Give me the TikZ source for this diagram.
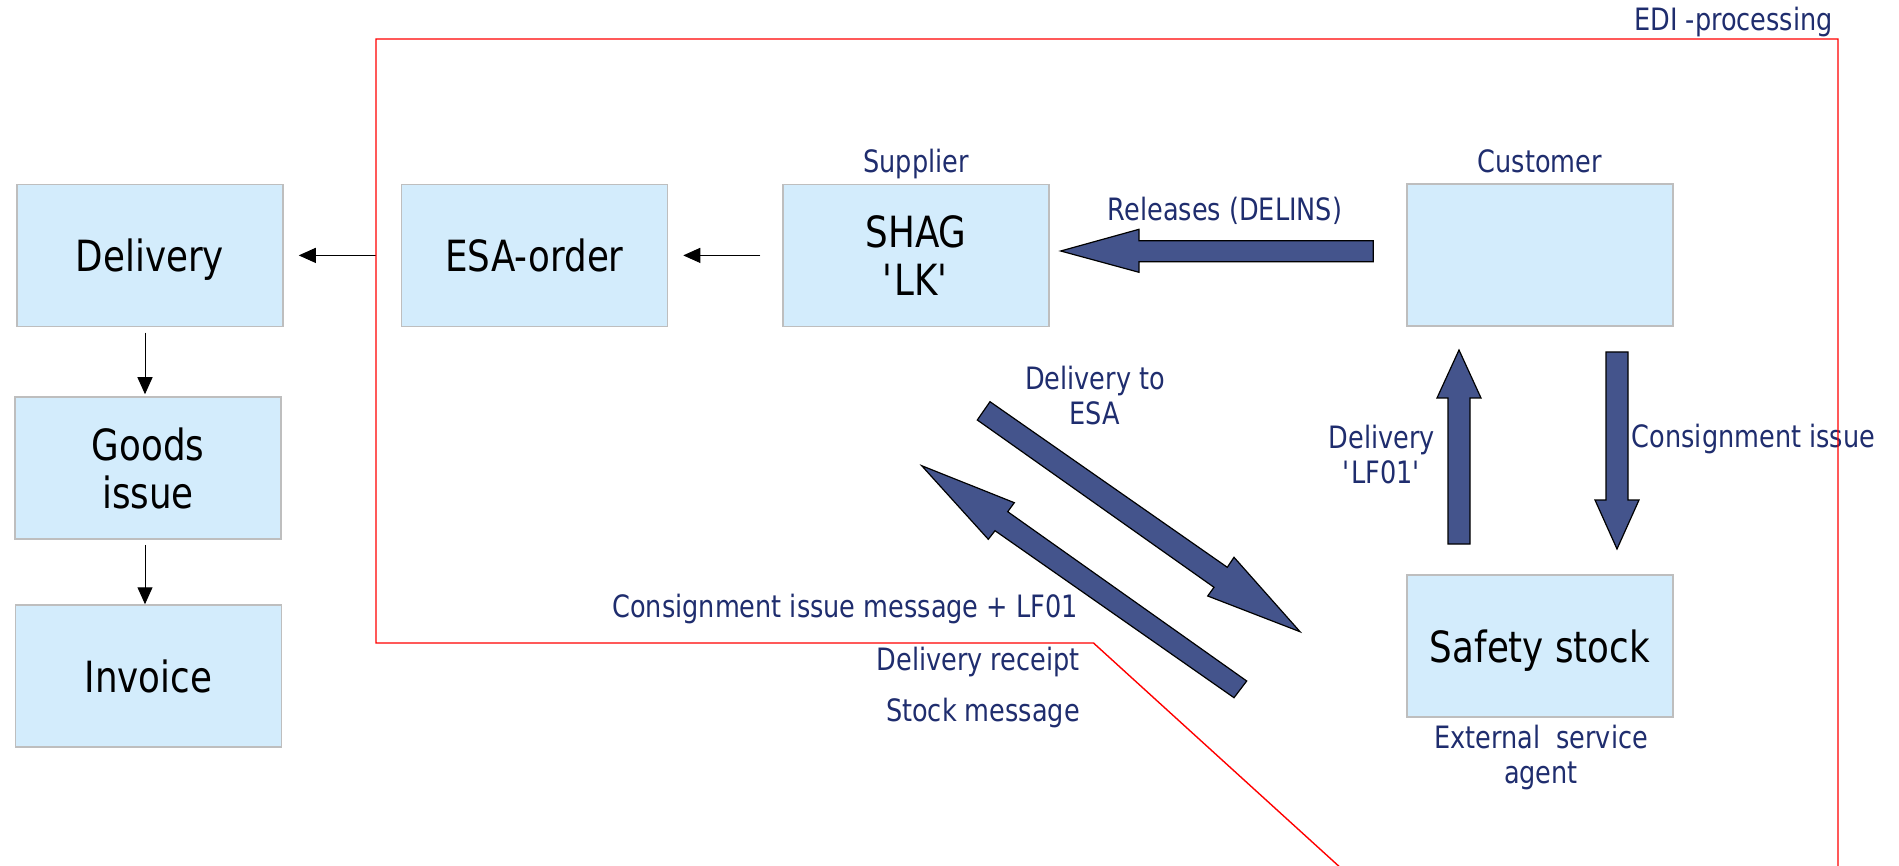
\documentclass[tikz,border=0pt]{standalone}
\usepackage{fontspec}
\setmainfont{DejaVu Sans}[FakeStretch=0.83]
\usetikzlibrary{arrows.meta}
\definecolor{boxfill}{RGB}{211,236,252}
\definecolor{boxline}{RGB}{190,190,190}
\definecolor{navy}{RGB}{31,45,110}
\definecolor{arrowblue}{RGB}{68,84,140}
\begin{document}
\begin{tikzpicture}[x=1pt,y=-1pt,
 box/.style={draw=boxline,line width=1.5pt,fill=boxfill,minimum width=266pt,minimum height=142pt,inner sep=0pt,align=center,font=\fontsize{43}{48}\selectfont},
 lbl/.style={text=navy,inner sep=0pt,font=\fontsize{30.8}{35}\selectfont,align=center},
 thinarrow/.style={-{Triangle[length=17pt,width=15pt]},line width=1pt},
 blockarrow/.style={fill=arrowblue,draw=black,line width=1.2pt,line join=miter},
 edi/.style={draw=red,line width=1.4pt}]
\useasboundingbox (0,0) rectangle (1899,866);

% boxes
\node[box,text depth=0pt] (delivery) at (150,255.4) {Delivery};
\node[box] (goods) at (148,468) {Goods\\issue};
\node[box] (invoice) at (148.3,676) {Invoice};
\node[box] (esa) at (534.5,255.4) {ESA-order};
\node[box] (shag) at (916,255.4) {SHAG\\\textquotesingle LK\textquotesingle};
\node[box] (customer) at (1540,255) {};
\node[box,text depth=0pt] (safety) at (1540,646) {Safety stock};

% thin connectors
\coordinate (ediw) at (376,255.4);
\draw[thinarrow,shorten >=15pt] (ediw) -- (delivery.east);
\draw[thinarrow,shorten <=22pt,shorten >=15pt] (shag.west) -- (esa.east);
\draw[thinarrow,shorten <=5.6pt,shorten >=2pt] ([xshift=-5pt]delivery.south) -- ([xshift=-3pt]goods.north);
\draw[thinarrow,shorten <=5pt] ([xshift=-3pt]goods.south) -- ([xshift=-3.3pt]invoice.north);

% block arrows
\draw[blockarrow] (1060.7,251) -- (1139,229.3) -- (1139,240.7) -- (1373.3,240.7) -- (1373.3,261.7) -- (1139,261.7) -- (1139,272.3) -- cycle;
\draw[blockarrow] (1459,350) -- (1481,398) -- (1470,398) -- (1470,544) -- (1448,544) -- (1448,398) -- (1437,398) -- cycle;
\draw[blockarrow] (1617,549) -- (1639,500) -- (1628,500) -- (1628,352) -- (1606,352) -- (1606,500) -- (1595,500) -- cycle;
\draw[blockarrow] (990,401.7) -- (1227.3,567.3) -- (1234,557.3) -- (1300,631.7) -- (1207.7,596) -- (1214,587.3) -- (977.3,420) -- cycle;
\draw[blockarrow] (921.7,465.7) -- (1014.3,502.7) -- (1007.7,511.7) -- (1246.7,681) -- (1234,697.7) -- (995,530.7) -- (988.3,539.3) -- cycle;

% labels
\node[lbl,anchor=base east] (edilbl) at (1833,31) {EDI -processing};
\node[lbl,anchor=base] (suplbl) at (916,173) {Supplier};
\node[lbl,anchor=base] (custlbl) at (1540,173) {Customer};
\node[lbl,anchor=base] (rellbl) at (1225,220.7) {Releases (DELINS)};
\node[lbl] (dtoesa) at (1095,396) {Delivery to\\ESA};
\node[lbl] (dlf) at (1382,455) {Delivery\\\textquotesingle LF01\textquotesingle};
\node[lbl,anchor=base west] (cilbl) at (1631.7,448) {Consignment issue};
\node[lbl] (esalbl) at (1541,757) {External\ \ service\\agent};
\node[lbl,anchor=base east] (cimsg) at (1078,617.3) {Consignment issue message + LF01};
\node[lbl,anchor=base east] (drlbl) at (1080,670) {Delivery receipt};
\node[lbl,anchor=base east] (smlbl) at (1080,721.7) {Stock message};

% EDI processing boundary
\draw[edi] (1838,870) -- (1838,39) -- (376,39) -- (376,643) -- (1093.5,643) -- (1343,870);
\end{tikzpicture}
\end{document}
